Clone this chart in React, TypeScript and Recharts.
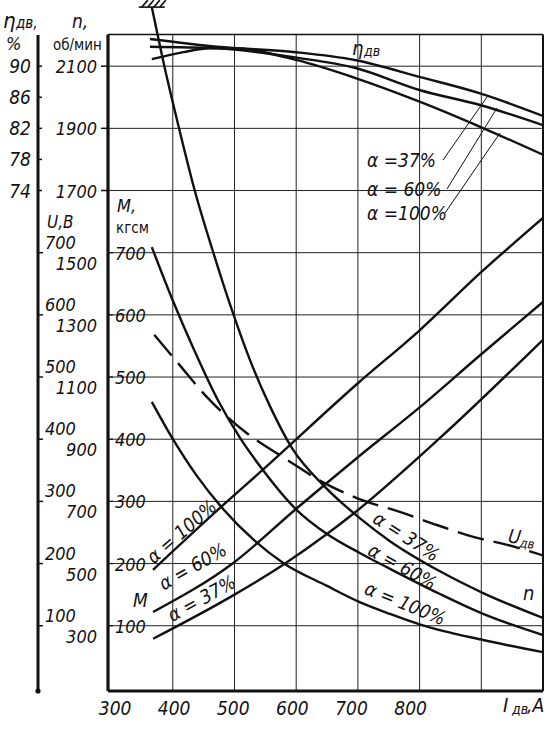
import React from "react";
import { LineChart, Line, XAxis, YAxis, ReferenceLine, ReferenceDot } from "recharts";

const FONT = "'Liberation Sans Narrow','DejaVu Sans Condensed','Liberation Sans',sans-serif";
const INK = "#111";

// ---- axes / grid ----
const currentTicks = [300, 400, 500, 600, 700, 800];
const currentGrid = [400, 500, 600, 700, 800, 900];
const torqueGrid = [100, 200, 300, 400, 500, 600, 700, 800, 900, 1000];
const torqueTicks = [100, 200, 300, 400, 500, 600, 700];
const speedTicks = [300, 500, 700, 900, 1100, 1300, 1500, 1700, 1900, 2100];
const voltageTicks = [100, 200, 300, 400, 500, 600, 700];
const effTicks = [74, 78, 82, 86, 90];

// ---- speed n, rpm ----
const speedA37 = [
  { i: 366, v: 2290 }, { i: 387, v: 2094 }, { i: 412, v: 1885 }, { i: 436, v: 1697 },
  { i: 464, v: 1511 }, { i: 498, v: 1303 }, { i: 525, v: 1155 }, { i: 558, v: 1004 },
  { i: 593, v: 872 }, { i: 647, v: 746 }, { i: 703, v: 646 }, { i: 752, v: 572 },
  { i: 833, v: 475 }, { i: 903, v: 405 }, { i: 1000, v: 325 },
];
const speedA60 = [
  { i: 366, v: 1518 }, { i: 399, v: 1351 }, { i: 433, v: 1194 }, { i: 473, v: 1026 },
  { i: 509, v: 904 }, { i: 546, v: 801 }, { i: 601, v: 672 }, { i: 650, v: 595 },
  { i: 703, v: 534 }, { i: 752, v: 483 }, { i: 833, v: 402 }, { i: 903, v: 338 },
  { i: 1000, v: 270 },
];
const speedA100 = [
  { i: 366, v: 1020 }, { i: 399, v: 904 }, { i: 439, v: 782 }, { i: 480, v: 679 },
  { i: 533, v: 573 }, { i: 579, v: 502 }, { i: 650, v: 428 }, { i: 703, v: 376 },
  { i: 752, v: 338 }, { i: 804, v: 302 }, { i: 903, v: 254 }, { i: 1000, v: 215 },
];

// ---- torque M, kgf·m ----
const torqueA100 = [
  { i: 368, v: 190 }, { i: 476, v: 289 }, { i: 546, v: 351 }, { i: 700, v: 490 },
  { i: 801, v: 576 }, { i: 898, v: 667 }, { i: 1000, v: 756 },
];
const torqueA60 = [
  { i: 368, v: 122 }, { i: 498, v: 201 }, { i: 601, v: 289 }, { i: 700, v: 371 },
  { i: 801, v: 452 }, { i: 898, v: 535 }, { i: 1000, v: 621 },
];
const torqueA37 = [
  { i: 368, v: 79 }, { i: 493, v: 146 }, { i: 579, v: 198 }, { i: 652, v: 249 },
  { i: 690, v: 278 }, { i: 833, v: 402 }, { i: 1000, v: 560 },
];

// ---- motor voltage U, V ----
const voltage = [
  { i: 370, v: 568 }, { i: 408, v: 523 }, { i: 455, v: 468 }, { i: 517, v: 412 },
  { i: 585, v: 367 }, { i: 643, v: 331 }, { i: 707, v: 302 }, { i: 768, v: 283 },
  { i: 828, v: 262 }, { i: 887, v: 243 }, { i: 942, v: 230 }, { i: 1000, v: 213 },
];

// ---- efficiency, % ----
const effA37 = [
  { i: 363, v: 93.5 }, { i: 472, v: 92.5 }, { i: 600, v: 91.8 }, { i: 695, v: 90.8 },
  { i: 801, v: 88.6 }, { i: 898, v: 86.5 }, { i: 1000, v: 83.6 },
];
const effA60 = [
  { i: 363, v: 92.5 }, { i: 472, v: 92.3 }, { i: 600, v: 91.1 }, { i: 695, v: 89.8 },
  { i: 801, v: 86.9 }, { i: 898, v: 85.0 }, { i: 1000, v: 82.4 },
];
const effA100 = [
  { i: 366, v: 90.9 }, { i: 417, v: 91.8 }, { i: 460, v: 92.3 }, { i: 493, v: 92.3 },
  { i: 600, v: 90.8 }, { i: 695, v: 88.5 }, { i: 801, v: 85.4 }, { i: 898, v: 82.2 },
  { i: 1000, v: 78.6 },
];

const T: any = { fontFamily: FONT, fontStyle: "italic", fill: INK };

const XTick = (p: any) => (
  <text x={p.x + 4 - (p.payload.value - 300) * 0.026} y={p.y + 24} textAnchor="middle" fontSize={19} {...T}>
    {p.payload.value}
  </text>
);
const NTick = (p: any) => {
  const v = p.payload.value;
  const upper = v >= 1700;
  return (
    <g>
      {upper && <line x1={p.x - 7} x2={p.x} y1={p.y} y2={p.y} stroke={INK} strokeWidth={1.5} />}
      <text x={p.x - 11} y={p.y + (upper ? 7 : 17)} textAnchor="end" fontSize={18} {...T}>
        {v}
      </text>
    </g>
  );
};
const UTick = (p: any) => (
  <g>
    <line x1={p.x} x2={p.x + 5} y1={p.y} y2={p.y} stroke={INK} strokeWidth={1.5} />
    <text x={p.x + 7} y={p.y - 4} textAnchor="start" fontSize={18} {...T}>
      {p.payload.value}
    </text>
  </g>
);
const EtaTick = (p: any) => (
  <g>
    <line x1={p.x} x2={p.x + 5} y1={p.y} y2={p.y} stroke={INK} strokeWidth={1.5} />
    <text x={p.x - 6} y={p.y + 7} textAnchor="end" fontSize={19} {...T}>
      {p.payload.value}
    </text>
  </g>
);
const MTick = (p: any) => (
  <g>
    <line x1={p.x + 1} x2={p.x + 5} y1={p.y} y2={p.y} stroke={INK} strokeWidth={1.2} />
    <text x={p.x + 7} y={p.y + 7} textAnchor="start" fontSize={18} {...T}>
      {p.payload.value}
    </text>
  </g>
);

const Hatch = (p: any) => (
  <g stroke={INK} strokeWidth={1.6}>
    <line x1={p.cx - 13} x2={p.cx + 13} y1={p.cy} y2={p.cy} />
    {[-10, -4, 2, 8].map((d) => (
      <line key={d} x1={p.cx + d} y1={p.cy} x2={p.cx + d + 6} y2={p.cy - 7} />
    ))}
  </g>
);

const curve = (data: any[], axis: string, key: string, extra: any = {}) => (
  <Line
    key={key}
    data={data}
    dataKey="v"
    yAxisId={axis}
    type="monotone"
    stroke={INK}
    strokeWidth={2.4}
    dot={false}
    activeDot={false}
    isAnimationActive={false}
    {...extra}
  />
);

const Rot = ({ x, y, a, size = 19, children }: any) => (
  <text
    x={x}
    y={y + 6}
    textAnchor="middle"
    fontSize={size}
    transform={`rotate(${a} ${x} ${y})`}
    {...T}
  >
    {children}
  </text>
);

export default function App() {
  return (
    <div style={{ position: "absolute", left: 0, top: 0, width: 547, height: 740, background: "#fff" }}>
      <LineChart width={547} height={740} margin={{ top: 4, right: 4, bottom: 19, left: 8 }}>
        <XAxis
          dataKey="i"
          type="number"
          domain={[295, 1000]}
          allowDataOverflow
          ticks={currentTicks}
          interval={0}
          tick={XTick}
          tickLine={false}
          axisLine={false}
          tickSize={0}
          tickMargin={0}
          height={30}
        />
        <YAxis yAxisId="a_n" type="number" domain={[90, 2300]} allowDataOverflow ticks={speedTicks} interval={0}
          tick={NTick} tickLine={false} axisLine={false} tickSize={0} tickMargin={0} width={70} />
        <YAxis yAxisId="b_U" type="number" domain={[-5, 1100]} allowDataOverflow ticks={voltageTicks} interval={0}
          tick={UTick} tickLine={false} axisLine={false} tickSize={0} tickMargin={0} width={1} />
        <YAxis yAxisId="c_eta" type="number" domain={[9.6, 98]} allowDataOverflow ticks={effTicks} interval={0}
          tick={EtaTick} tickLine={false} axisLine={false} tickSize={0} tickMargin={0} width={29} />
        <YAxis yAxisId="m" type="number" domain={[-5, 1100]} allowDataOverflow ticks={torqueTicks} interval={0}
          mirror tick={MTick} tickLine={false} axisLine={false} tickSize={0} tickMargin={0} width={40} />

        {currentGrid.map((v) => (
          <ReferenceLine key={"gx" + v} yAxisId="m" segment={[{ x: v, y: -5 }, { x: v, y: 1051 }]}
            stroke="#222" strokeWidth={1} />
        ))}
        {torqueGrid.map((v) => (
          <ReferenceLine key={"gy" + v} yAxisId="m" segment={[{ x: 295, y: v }, { x: 1000, y: v }]}
            stroke="#222" strokeWidth={1} />
        ))}
        <ReferenceLine yAxisId="m" segment={[{ x: 295, y: 1051 }, { x: 1000, y: 1051 }]} stroke={INK} strokeWidth={1.6} />
        <ReferenceLine yAxisId="m" segment={[{ x: 1000, y: -5 }, { x: 1000, y: 1051 }]} stroke={INK} strokeWidth={2} />
        <ReferenceLine yAxisId="m" segment={[{ x: 295, y: -5 }, { x: 295, y: 1051 }]} stroke={INK} strokeWidth={3.2} />
        <ReferenceLine yAxisId="m" segment={[{ x: 295, y: -5 }, { x: 1000, y: -5 }]} stroke={INK} strokeWidth={3.2} />

        {curve(effA37, "c_eta", "e37")}
        {curve(effA60, "c_eta", "e60")}
        {curve(effA100, "c_eta", "e100")}
        {curve(speedA37, "a_n", "n37")}
        {curve(speedA60, "a_n", "n60")}
        {curve(speedA100, "a_n", "n100")}
        {curve(torqueA100, "m", "m100")}
        {curve(torqueA60, "m", "m60")}
        {curve(torqueA37, "m", "m37")}
        {curve(voltage, "b_U", "u", { strokeDasharray: "27 10" })}

        <ReferenceDot yAxisId="a_n" x={speedA37[0].i} y={speedA37[0].v} r={0} shape={Hatch} ifOverflow="visible" />

        {/* left scale line */}
        <line x1={38} x2={38} y1={35} y2={691} stroke={INK} strokeWidth={3} />
        <circle cx={38} cy={691} r={2.6} fill={INK} />

        {/* axis titles */}
        <text x={3} y={28} fontSize={22} {...T}>η</text>
        <text x={16} y={28} fontSize={15} {...T}>дв,</text>
        <text x={6} y={50} fontSize={18} {...T}>%</text>
        <text x={72} y={28} fontSize={19} {...T}>n,</text>
        <text x={53} y={50} fontSize={15} fontFamily={FONT} fill={INK}>об/мин</text>
        <text x={47} y={228} fontSize={17} {...T}>U,В</text>
        <text x={117} y={212} fontSize={18} {...T}>M,</text>
        <text x={116} y={233} fontSize={15} fontFamily={FONT} fill={INK}>кгсм</text>
        <text x={503} y={712} fontSize={20} {...T}>I</text>
        <text x={512} y={714} fontSize={14} {...T}>дв</text>
        <text x={527} y={712} fontSize={19} {...T}>,A</text>

        {/* efficiency labels */}
        <text x={352} y={55} fontSize={20} {...T}>η</text>
        <text x={364} y={56} fontSize={14} {...T}>дв</text>
        <text x={367} y={167} fontSize={19} {...T}>α =37%</text>
        <text x={367} y={196} fontSize={19} {...T}>α = 60%</text>
        <text x={367} y={220} fontSize={19} {...T}>α =100%</text>
        <line x1={443} y1={160} x2={487} y2={97} stroke={INK} strokeWidth={1} />
        <line x1={447} y1={189} x2={497} y2={108} stroke={INK} strokeWidth={1} />
        <line x1={445} y1={213} x2={500} y2={133} stroke={INK} strokeWidth={1} />

        {/* torque labels */}
        <Rot x={182} y={532} a={-41}>α = 100%</Rot>
        <Rot x={193} y={567} a={-30}>α = 60%</Rot>
        <Rot x={202} y={599} a={-29}>α = 37%</Rot>
        <text x={133} y={607} fontSize={19} {...T}>M</text>

        {/* speed labels */}
        <Rot x={406} y={537} a={33}>α = 37%</Rot>
        <Rot x={402} y={567} a={29}>α = 60%</Rot>
        <Rot x={405} y={604} a={22}>α = 100%</Rot>
        <text x={523} y={600} fontSize={20} {...T}>n</text>
        <g transform="rotate(8 520 540)">
          <text x={508} y={544} fontSize={19} {...T}>U</text>
          <text x={520} y={547} fontSize={13} {...T}>дв</text>
        </g>
      </LineChart>
    </div>
  );
}
